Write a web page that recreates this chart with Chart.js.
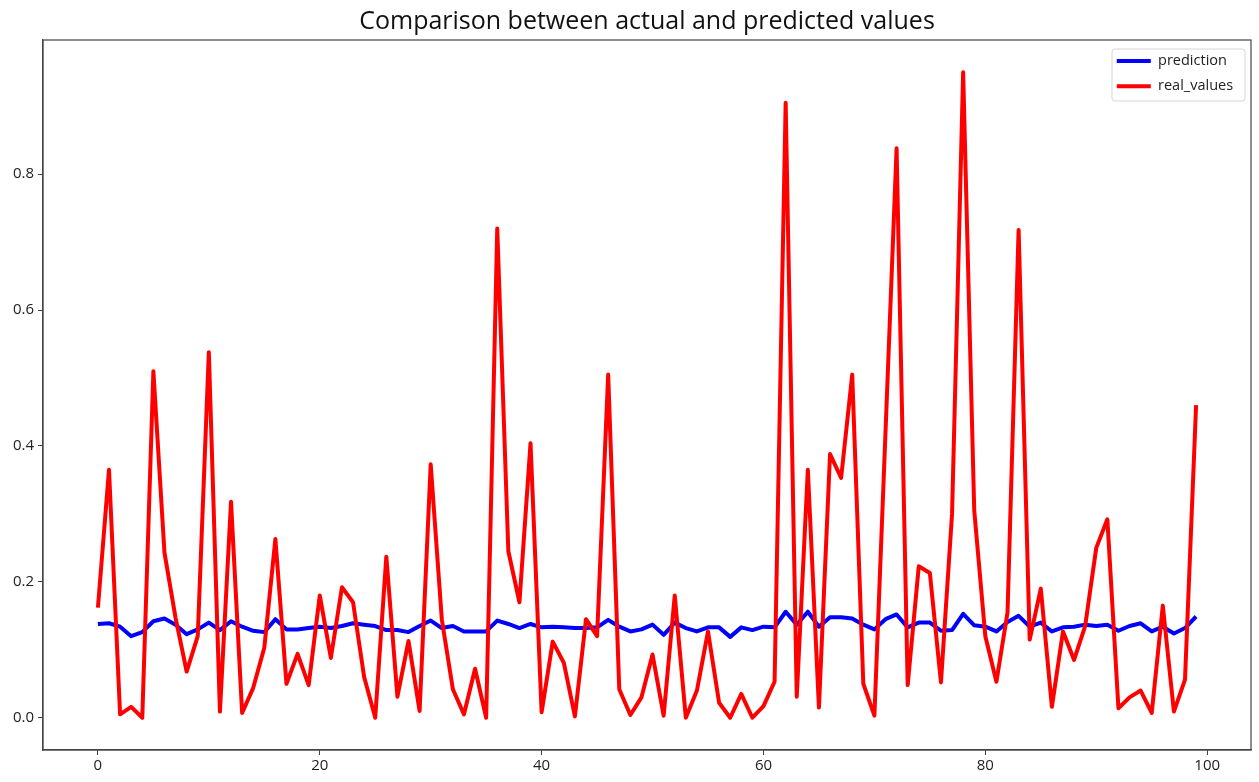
<!DOCTYPE html>
<html>
<head>
<meta charset="utf-8">
<script src="https://cdn.jsdelivr.net/npm/chart.js@4.4.1/dist/chart.umd.min.js"></script>
<style>
  html, body { margin: 0; padding: 0; background: #ffffff; }
  #wrap { width: 1259px; height: 782px; }
</style>
</head>
<body>
<div id="wrap"><canvas id="c" width="1259" height="782"></canvas></div>
<script>
const chartTitle = 'Comparison between actual and predicted values';
const seriesNames = ['prediction', 'real_values'];

const prediction = [
  0.138, 0.139, 0.134, 0.120, 0.126, 0.142, 0.146, 0.137, 0.123, 0.130,
  0.140, 0.129, 0.142, 0.134, 0.128, 0.126, 0.145, 0.130, 0.130, 0.132,
  0.134, 0.132, 0.135, 0.139, 0.137, 0.135, 0.129, 0.129, 0.126, 0.135,
  0.143, 0.132, 0.135, 0.127, 0.127, 0.127, 0.143, 0.138, 0.132, 0.138,
  0.133, 0.134, 0.133, 0.132, 0.132, 0.133, 0.144, 0.134, 0.127, 0.130,
  0.137, 0.122, 0.140, 0.132, 0.127, 0.133, 0.133, 0.119, 0.133, 0.129,
  0.134, 0.133, 0.156, 0.137, 0.156, 0.134, 0.148, 0.148, 0.146, 0.137,
  0.130, 0.145, 0.152, 0.133, 0.140, 0.140, 0.128, 0.129, 0.153, 0.136,
  0.134, 0.127, 0.141, 0.150, 0.134, 0.140, 0.127, 0.133, 0.134, 0.137,
  0.135, 0.137, 0.128, 0.135, 0.139, 0.127, 0.134, 0.124, 0.132, 0.149
];

const realValues = [
  0.162, 0.365, 0.005, 0.016, 0.000, 0.510, 0.243, 0.147, 0.068, 0.120,
  0.538, 0.009, 0.318, 0.007, 0.044, 0.103, 0.263, 0.050, 0.094, 0.048,
  0.180, 0.088, 0.192, 0.170, 0.060, 0.000, 0.237, 0.031, 0.113, 0.010,
  0.373, 0.145, 0.042, 0.005, 0.072, 0.000, 0.720, 0.245, 0.170, 0.404,
  0.008, 0.112, 0.081, 0.002, 0.145, 0.120, 0.505, 0.042, 0.004, 0.030,
  0.093, 0.003, 0.180, 0.000, 0.040, 0.127, 0.022, 0.000, 0.035, 0.000,
  0.017, 0.053, 0.905, 0.031, 0.365, 0.015, 0.388, 0.353, 0.505, 0.050,
  0.003, 0.420, 0.838, 0.048, 0.223, 0.213, 0.052, 0.300, 0.950, 0.305,
  0.120, 0.053, 0.155, 0.718, 0.115, 0.190, 0.016, 0.127, 0.085, 0.135,
  0.250, 0.292, 0.014, 0.030, 0.040, 0.007, 0.165, 0.009, 0.056, 0.460
];

const xTickValues = [0, 20, 40, 60, 80, 100];
const yTickValues = [0.0, 0.2, 0.4, 0.6, 0.8];

const indexLabels = realValues.map((_, i) => i);

const FONT = "'Open Sans', 'DejaVu Sans', sans-serif";
const AXIS_COLOR = '#444444';

const framePlugin = {
  id: 'frameAndLegendBox',
  afterLayout(chart) {
    const lg = chart.legend;
    const ca = chart.chartArea;
    if (lg) {
      const w = 142;
      lg.left = ca.right - w - 3;
      lg.right = lg.left + w;
      lg.width = w;
      lg.top = ca.top + 3;
      lg.bottom = lg.top + 80;
      lg.height = 80;
    }
  },
  beforeDraw(chart) {
    const ctx = chart.ctx;
    const ca = chart.chartArea;
    ctx.save();
    ctx.fillStyle = '#ffffff';
    ctx.fillRect(0, 0, chart.width, chart.height);
    // legend frame (matplotlib-like rounded box)
    const x0 = ca.right - 139, y0 = ca.top + 9, w = 133, h = 52, r = 3;
    ctx.beginPath();
    ctx.moveTo(x0 + r, y0);
    ctx.arcTo(x0 + w, y0, x0 + w, y0 + h, r);
    ctx.arcTo(x0 + w, y0 + h, x0, y0 + h, r);
    ctx.arcTo(x0, y0 + h, x0, y0, r);
    ctx.arcTo(x0, y0, x0 + w, y0, r);
    ctx.closePath();
    ctx.fillStyle = 'rgba(255,255,255,0.8)';
    ctx.fill();
    ctx.strokeStyle = '#d6d6d6';
    ctx.lineWidth = 1;
    ctx.stroke();
    ctx.restore();
  },
  afterDraw(chart) {
    const ctx = chart.ctx;
    const ca = chart.chartArea;
    ctx.save();
    ctx.strokeStyle = AXIS_COLOR;
    ctx.lineWidth = 1.2;
    ctx.strokeRect(ca.left, ca.top, ca.right - ca.left, ca.bottom - ca.top);
    ctx.restore();
  }
};

new Chart(document.getElementById('c'), {
  type: 'line',
  data: {
    labels: indexLabels,
    datasets: [
      {
        label: seriesNames[0],
        data: prediction,
        borderColor: '#0000ff',
        backgroundColor: '#0000ff',
        borderWidth: 4,
        pointRadius: 0,
        tension: 0,
        borderJoinStyle: 'round',
        order: 1
      },
      {
        label: seriesNames[1],
        data: realValues,
        borderColor: '#ff0000',
        backgroundColor: '#ff0000',
        borderWidth: 4,
        pointRadius: 0,
        tension: 0,
        borderJoinStyle: 'round',
        order: 0
      }
    ]
  },
  options: {
    responsive: false,
    animation: false,
    events: [],
    layout: { padding: { left: 0, right: 8, top: 0, bottom: 0 } },
    plugins: {
      title: {
        display: true,
        text: chartTitle,
        fullSize: false,
        color: '#111111',
        font: { family: FONT, size: 25, weight: 'normal' },
        padding: { top: 7, bottom: 3 }
      },
      legend: {
        display: true,
        position: 'chartArea',
        align: 'start',
        labels: {
          color: '#222222',
          font: { family: FONT, size: 14.5 },
          usePointStyle: true,
          pointStyle: 'line',
          pointStyleWidth: 34,
          padding: 10.8,
          sort: (a, b) => a.datasetIndex - b.datasetIndex
        }
      },
      tooltip: { enabled: false }
    },
    scales: {
      x: {
        type: 'linear',
        min: -4.95,
        max: 103.95,
        afterBuildTicks(scale) { scale.ticks = xTickValues.map(v => ({ value: v })); },
        afterFit(scale) { scale.height = 32; },
        ticks: {
          color: '#222222',
          font: { family: FONT, size: 15 },
          padding: 2,
          maxRotation: 0,
          callback: v => String(v)
        },
        grid: { drawOnChartArea: false, drawTicks: true, tickLength: 5, color: AXIS_COLOR, lineWidth: 1 },
        border: { display: true, color: AXIS_COLOR, width: 1.2 }
      },
      y: {
        type: 'linear',
        min: -0.0475,
        max: 0.9975,
        afterBuildTicks(scale) { scale.ticks = yTickValues.map(v => ({ value: v })); },
        afterFit(scale) { scale.width = 43; },
        ticks: {
          color: '#222222',
          font: { family: FONT, size: 15 },
          padding: 4,
          callback: v => Number(v).toFixed(1)
        },
        grid: { drawOnChartArea: false, drawTicks: true, tickLength: 5, color: AXIS_COLOR, lineWidth: 1 },
        border: { display: true, color: AXIS_COLOR, width: 1.2 }
      }
    }
  },
  plugins: [framePlugin]
});
</script>
</body>
</html>
